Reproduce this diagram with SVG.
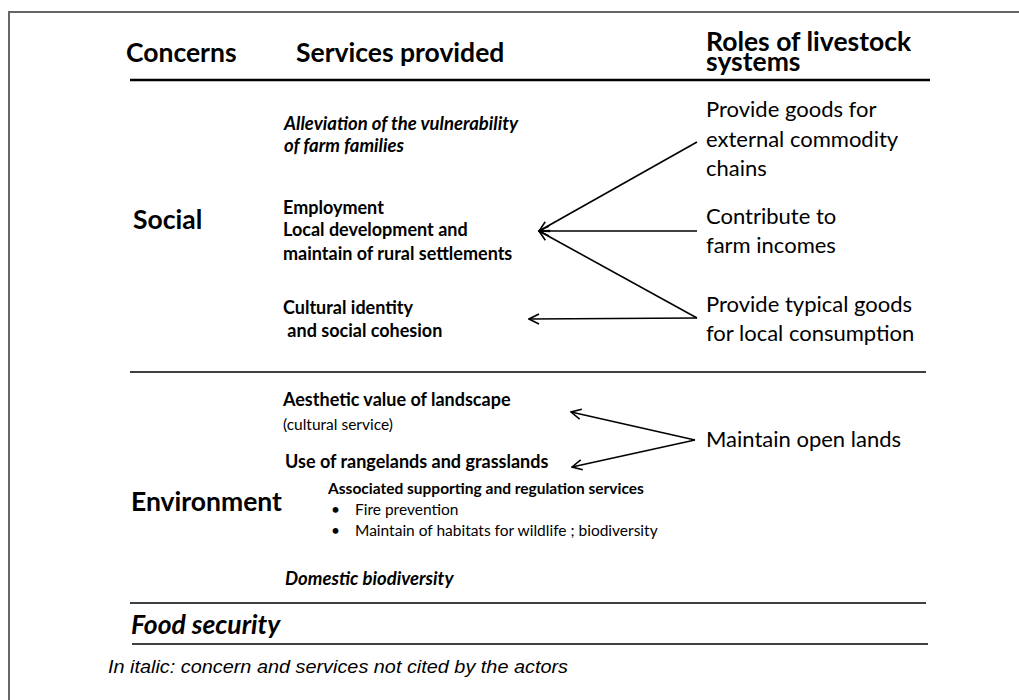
<svg xmlns="http://www.w3.org/2000/svg" width="1019" height="700" viewBox="0 0 1019 700">
<defs>
<style>
.h{font-family:Lato,"Open Sans",sans-serif;font-weight:bold;font-size:26.5px;fill:#000}
.s{font-family:Lato,"Open Sans",sans-serif;font-weight:bold;font-size:18px;fill:#000}
.si{font-family:Lato,"Open Sans",sans-serif;font-weight:bold;font-style:italic;font-size:18.5px;fill:#000}
.r{font-family:Lato,"Open Sans",sans-serif;font-size:22px;fill:#000}
.sm{font-family:Lato,"Open Sans",sans-serif;font-size:15.5px;fill:#000}
.smb{font-family:Lato,"Open Sans",sans-serif;font-weight:bold;font-size:15.5px;fill:#000}
.rule{stroke:#000;fill:none}
.conn{stroke:#000;stroke-width:1.6;fill:none}
</style>
<marker id="ah" viewBox="0 0 12 12" refX="11" refY="6" markerWidth="12" markerHeight="12" markerUnits="userSpaceOnUse" orient="auto">
<path d="M1,1 L11,6 L1,11" fill="none" stroke="#000" stroke-width="1.6"/>
</marker>
</defs>
<rect width="1019" height="700" fill="#fff"/>
<path d="M9,700 V12 H1019" fill="none" stroke="#666" stroke-width="2"/>
<g id="rules">
<line class="rule" x1="130" y1="80" x2="930" y2="80" stroke-width="2.5"/>
<line class="rule" x1="130" y1="372" x2="926" y2="372" stroke-width="1.3"/>
<line class="rule" x1="130" y1="603" x2="926" y2="603" stroke-width="1.3"/>
<line class="rule" x1="132" y1="644" x2="928" y2="644" stroke-width="1.5"/>
</g>
<g id="headers">
<text class="h" x="126" y="62">Concerns</text>
<text class="h" x="296" y="62">Services provided</text>
<text class="h" x="706" y="51">Roles of livestock</text>
<text class="h" x="706" y="71">systems</text>
</g>
<g id="concern-social"><text class="h" x="133" y="229" font-size="26">Social</text></g>
<g id="concern-environment"><text class="h" x="131" y="511" font-size="27.5">Environment</text></g>
<g id="concern-food"><text class="h" x="131" y="634" font-style="italic" font-size="29">Food security</text></g>
<g id="svc-alleviation">
<text class="si" x="284" y="130">Alleviation of the vulnerability</text>
<text class="si" x="284" y="152">of farm families</text>
</g>
<g id="svc-employment">
<text class="s" x="283" y="214">Employment</text>
<text class="s" x="283" y="236">Local development and</text>
<text class="s" x="283" y="260">maintain of rural settlements</text>
</g>
<g id="svc-cultural">
<text class="s" x="283" y="314">Cultural identity</text>
<text class="s" x="283" y="337" xml:space="preserve"> and social cohesion</text>
</g>
<g id="svc-aesthetic">
<text class="s" x="283" y="406">Aesthetic value of landscape</text>
<text class="sm" x="283" y="430">(cultural service)</text>
</g>
<g id="svc-rangelands">
<text class="s" x="285" y="468">Use of rangelands and grasslands</text>
</g>
<g id="svc-associated">
<text class="smb" x="328" y="494">Associated supporting and regulation services</text>
<text class="sm" x="331" y="515">•</text>
<text class="sm" x="355" y="515">Fire prevention</text>
<text class="sm" x="331" y="536">•</text>
<text class="sm" x="355" y="536">Maintain of habitats for wildlife ; biodiversity</text>
</g>
<g id="svc-domestic"><text class="si" x="285" y="585">Domestic biodiversity</text></g>
<g id="role-external">
<text class="r" x="706" y="117">Provide goods for</text>
<text class="r" x="706" y="147">external commodity</text>
<text class="r" x="706" y="176">chains</text>
</g>
<g id="role-incomes">
<text class="r" x="706" y="224">Contribute to</text>
<text class="r" x="706" y="253">farm incomes</text>
</g>
<g id="role-typical">
<text class="r" x="706" y="312">Provide typical goods</text>
<text class="r" x="706" y="341">for local consumption</text>
</g>
<g id="role-openlands"><text class="r" x="706" y="447">Maintain open lands</text></g>
<g id="connectors">
<line class="conn" x1="697" y1="142" x2="539" y2="231" marker-end="url(#ah)"/>
<line class="conn" x1="697" y1="231" x2="539" y2="231" marker-end="url(#ah)"/>
<line class="conn" x1="697" y1="318" x2="539" y2="231" marker-end="url(#ah)"/>
<line class="conn" x1="697" y1="318" x2="529" y2="319" marker-end="url(#ah)"/>
<line class="conn" x1="695" y1="440" x2="571" y2="412" marker-end="url(#ah)"/>
<line class="conn" x1="695" y1="440" x2="572" y2="467" marker-end="url(#ah)"/>
</g>
<g id="note"><text x="108" y="673" font-family="Liberation Sans,Arial,sans-serif" font-style="italic" font-size="18" textLength="460" lengthAdjust="spacingAndGlyphs" fill="#000">In italic: concern and services not cited by the actors</text></g>
</svg>
